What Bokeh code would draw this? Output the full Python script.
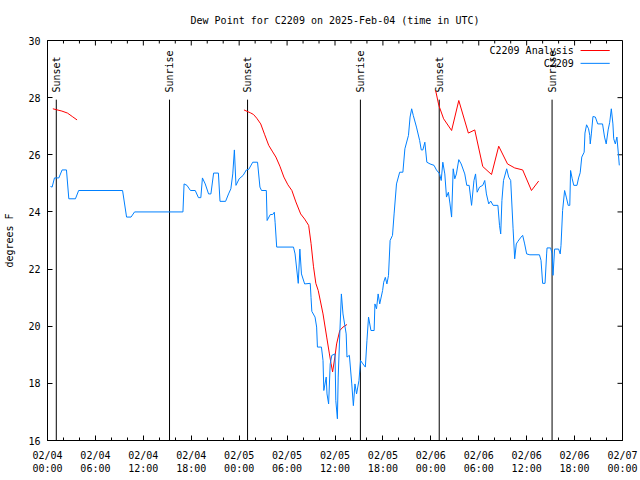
import numpy as np
from bokeh.plotting import figure
from bokeh.models import Range1d, FixedTicker
from bokeh.embed import file_html
from bokeh.resources import INLINE
from bokeh.core.properties import value

FONT = "DejaVu Sans Mono"
FS = "10px"

# ---- data (hours since 2025-02-04 00:00 UTC, degrees F) ----
obs_hours = [0.375, 0.58, 0.875, 1.42, 1.83, 2.375, 2.67, 3.5, 3.9, 9.4, 9.9, 10.46, 10.9, 16.96,
             17.1, 17.46, 17.9, 18.5, 18.9, 19.2, 19.4, 19.75, 20.17, 20.46, 20.8, 21.4, 21.6, 22.3,
             22.67, 22.96, 23.2, 23.4, 23.6, 24.0, 24.5, 24.9, 25.2, 25.7, 26.3, 26.6, 26.8, 27.4,
             27.5, 27.9, 28.2, 28.4, 28.5, 28.7, 30.8, 31.0, 31.4, 31.6, 31.8, 32.2, 32.9, 33.0,
             33.1, 33.5, 33.7, 33.8, 34.3, 34.5, 34.6, 34.9, 35.0, 35.2, 35.4, 35.6, 36.0, 36.1,
             36.3, 36.4, 36.6, 36.8, 37.0, 37.4, 37.5, 37.8, 38.1, 38.3, 38.5, 38.7, 39.0, 39.2,
             39.5, 39.8, 40.0, 40.2, 40.5, 40.9, 41.0, 41.2, 41.4, 41.6, 41.96, 42.1, 42.3, 42.5,
             42.7, 42.9, 43.2, 43.4, 43.7, 44.1, 44.5, 44.75, 45.2, 45.4, 45.6, 45.8, 46.2, 46.6,
             46.8, 47.0, 47.25, 47.5, 47.9, 48.4, 48.7, 49.1, 49.3, 49.5, 49.75, 49.96, 50.2, 50.4,
             50.6, 50.8, 51.0, 51.2, 51.5, 51.8, 52.25, 52.5, 52.8, 53.1, 53.4, 53.6, 53.8, 54.1,
             54.5, 54.75, 54.96, 55.25, 55.5, 55.8, 56.4, 56.6, 56.75, 56.9, 57.1, 57.5, 57.75,
             58.0, 58.3, 58.5, 58.7, 58.9, 59.3, 59.5, 59.75, 60.0, 60.4, 61.6, 61.8, 62.0, 62.3,
             62.5, 62.55, 63.0, 63.2, 63.3, 63.5, 64.0, 64.2, 64.3, 64.5, 64.75, 64.96, 65.2, 65.4,
             65.5, 65.7, 65.9, 66.3, 66.5, 66.7, 66.9, 67.2, 67.3, 67.5, 67.75, 67.9, 67.96, 68.1,
             68.3, 68.6, 68.9, 69.5, 69.75, 69.96, 70.2, 70.4, 70.6, 70.8, 70.9, 71.1, 71.3, 71.5,
             71.6]
obs_dewpt = [24.89, 24.87, 25.19, 25.19, 25.47, 25.47, 24.46, 24.46, 24.75, 24.75, 23.82, 23.82, 24.0, 24.0,
             24.98, 24.93, 24.75, 24.75, 24.5, 24.5, 25.19, 24.98, 24.63, 24.63, 25.36, 25.36, 24.37, 24.37,
             24.63, 24.81, 25.33, 26.17, 24.93, 25.16, 25.28, 25.47, 25.49, 25.74, 25.74, 24.87, 24.75, 24.75,
             23.7, 23.91, 23.91, 23.99, 23.64, 22.77, 22.77, 22.53, 21.5, 22.7, 21.83, 21.48, 21.5, 21.0,
             20.52, 20.32, 19.97, 19.27, 19.27, 18.8, 17.75, 18.22, 17.63, 17.28, 18.68, 18.98, 19.03, 17.4,
             16.76, 18.22, 19.73, 21.13, 20.43, 19.73, 18.92, 18.98, 17.98, 17.22, 17.98, 17.63, 18.1, 18.8,
             18.68, 18.57, 19.5, 20.32, 19.85, 19.85, 20.78, 20.61, 21.13, 20.78, 21.25, 21.54, 21.71, 21.48,
             21.78, 23.0, 23.18, 23.93, 24.98, 25.39, 25.39, 26.21, 26.68, 27.32, 27.61, 27.38, 26.97, 26.5,
             26.17, 26.17, 26.44, 25.74, 25.68, 25.63, 25.47, 25.33, 25.1, 25.74, 25.33, 24.52, 24.69, 24.28,
             23.82, 25.51, 25.16, 25.33, 25.83, 25.68, 25.33, 24.93, 24.93, 24.23, 25.1, 25.33, 24.69, 24.87,
             24.93, 25.1, 24.63, 24.28, 24.38, 24.23, 24.23, 23.53, 23.23, 24.4, 25.1, 25.51, 25.22,
             25.1, 23.41, 22.36, 22.88, 22.97, 23.12, 23.18, 22.88, 22.53, 22.5, 22.5, 22.3, 21.5, 21.5,
             22.53, 22.74, 22.74, 22.53, 21.78, 22.7, 22.7, 22.53, 22.83, 24.05, 24.75, 24.52, 24.23, 24.23,
             25.45, 25.16, 24.93, 24.93, 25.19, 25.37, 25.92, 26.09, 26.76, 27.05, 26.91, 26.68, 26.38, 26.73,
             27.34, 27.32, 27.08, 27.08, 26.62, 26.38, 26.87, 27.14, 27.61, 27.08, 26.56, 26.38, 26.62, 25.98,
             25.63]

ana1_hours = [0.67, 1.8, 2.5, 3.1, 3.7]
ana1_dewpt = [27.61, 27.53, 27.46, 27.34, 27.22]
ana2_hours = [24.6, 25.4, 25.8, 26.2, 26.7, 27.2, 27.7, 28.2, 28.6, 29.1, 29.6, 30.1, 30.6, 31.1, 31.7,
              32.2, 32.7, 33.0, 33.3, 33.6, 33.9, 34.5, 34.96, 35.3, 35.5, 35.7, 36.0, 36.2, 36.6, 37.0, 37.5]
ana2_dewpt = [27.57, 27.47, 27.41, 27.28, 27.08, 26.7, 26.33, 26.1, 25.92, 25.6, 25.22, 24.95, 24.75, 24.35, 23.93,
              23.75, 23.53, 22.9, 22.1, 21.5, 21.25, 20.43, 19.62, 19.03, 18.7, 18.4, 18.95, 19.38, 19.85, 19.97, 20.06]
ana3_hours = [48.6, 49.0, 49.6, 50.6, 51.5, 52.7, 53.5, 54.5, 55.6, 56.5, 57.6, 58.5, 59.5, 60.6, 61.5]
ana3_dewpt = [28.25, 27.73, 27.26, 26.85, 27.9, 26.76, 26.87, 25.59, 25.31, 26.3, 25.68, 25.54, 25.47, 24.75, 25.08]

sun_hours = [1.1, 15.28, 25.05, 39.18, 49.05, 63.18]
sun_events = ["Sunset", "Sunrise", "Sunset", "Sunrise", "Sunset", "Sunrise"]

x_ticks = [0, 6, 12, 18, 24, 30, 36, 42, 48, 54, 60, 66, 72]
x_tick_labels = ["02/04\n00:00", "02/04\n06:00", "02/04\n12:00", "02/04\n18:00",
                 "02/05\n00:00", "02/05\n06:00", "02/05\n12:00", "02/05\n18:00",
                 "02/06\n00:00", "02/06\n06:00", "02/06\n12:00", "02/06\n18:00",
                 "02/07\n00:00"]
x_minor = list(range(0, 73, 2))
y_ticks = [16, 18, 20, 22, 24, 26, 28, 30]

series_names = ["C2209 Analysis", "C2209"]
series_colors = ["#ff0000", "#0080ff"]

X0, X1, Y0, Y1 = 0, 72, 16, 30
FW, FH = 575, 400
MAJ, MIN = 5, 3  # tick lengths in px

# ---- figure ----
p = figure(width=640, height=480, output_backend="svg", toolbar_location=None,
           x_range=Range1d(X0, X1), y_range=Range1d(Y0, Y1),
           title="Dew Point for C2209 on 2025-Feb-04 (time in UTC)",
           min_border_left=47, min_border_right=18, min_border_top=40, min_border_bottom=40)
p.background_fill_color = "white"
p.border_fill_color = "white"
p.outline_line_color = "black"
p.xgrid.visible = False
p.ygrid.visible = False

p.title.text_font = FONT
p.title.text_font_size = FS
p.title.text_font_style = "normal"
p.title.align = "center"
p.title.text_color = "black"
p.title.vertical_align = "top"
p.title.standoff = 26

def style_axis(ax, ticker):
    ax.ticker = ticker
    ax.axis_line_color = "black"
    ax.major_tick_line_color = "black"
    ax.minor_tick_line_color = "black"
    ax.major_tick_in = MAJ
    ax.major_tick_out = 0
    ax.minor_tick_in = MIN
    ax.minor_tick_out = 0
    ax.major_label_text_font = FONT
    ax.major_label_text_font_size = FS
    ax.major_label_text_color = "black"
    ax.axis_label_text_font = FONT
    ax.axis_label_text_font_size = FS
    ax.axis_label_text_font_style = "normal"
    ax.axis_label_text_color = "black"

style_axis(p.xaxis[0], FixedTicker(ticks=x_ticks, minor_ticks=x_minor))
p.xaxis[0].major_label_overrides = {t: l for t, l in zip(x_ticks, x_tick_labels)}
p.xaxis[0].major_label_standoff = 9
style_axis(p.yaxis[0], FixedTicker(ticks=y_ticks, minor_ticks=[]))
p.yaxis[0].axis_label = "degrees F"
p.yaxis[0].major_label_standoff = 7
p.yaxis[0].axis_label_standoff = 10

# mirrored ticks on top and right edges (gnuplot style)
dy_per_px = (Y1 - Y0) / FH
dx_per_px = (X1 - X0) / FW
minor_only = [m for m in x_minor if m not in x_ticks]
p.segment(x0=x_ticks, y0=[Y1] * len(x_ticks), x1=x_ticks, y1=[Y1 - MAJ * dy_per_px] * len(x_ticks),
          line_color="black", line_width=1)
p.segment(x0=minor_only, y0=[Y1] * len(minor_only), x1=minor_only,
          y1=[Y1 - MIN * dy_per_px] * len(minor_only), line_color="black", line_width=1)
p.segment(x0=[X1] * len(y_ticks), y0=y_ticks, x1=[X1 - MAJ * dx_per_px] * len(y_ticks), y1=y_ticks,
          line_color="black", line_width=1)

# sunrise / sunset markers
line_top = 27.93
text_y = 28.18
p.segment(x0=sun_hours, y0=[Y0] * len(sun_hours), x1=sun_hours, y1=[line_top] * len(sun_hours),
          line_color="black", line_width=1)
p.text(x=sun_hours, y=[text_y] * len(sun_hours), text=sun_events, angle=np.pi / 2,
       text_align="left", text_baseline="middle", text_font=value(FONT), text_font_size=FS,
       text_color="black")

# series
for hrs, vals in [(ana1_hours, ana1_dewpt), (ana2_hours, ana2_dewpt), (ana3_hours, ana3_dewpt)]:
    p.line(hrs, vals, line_color=series_colors[0], line_width=1)
p.line(obs_hours, obs_dewpt, line_color=series_colors[1], line_width=1)

# legend (gnuplot style: text then sample line)
leg_text_x = 65.9
leg_line_x = [66.75, 70.4]
leg_rows = [29.65, 29.2]
for name, col, yr in zip(series_names, series_colors, leg_rows):
    p.text(x=[leg_text_x], y=[yr], text=[name], text_align="right", text_baseline="middle",
           text_font=value(FONT), text_font_size=FS, text_color="black")
    p.line(leg_line_x, [yr, yr], line_color=col, line_width=1)

open("out.html", "w").write(file_html(p, INLINE))
